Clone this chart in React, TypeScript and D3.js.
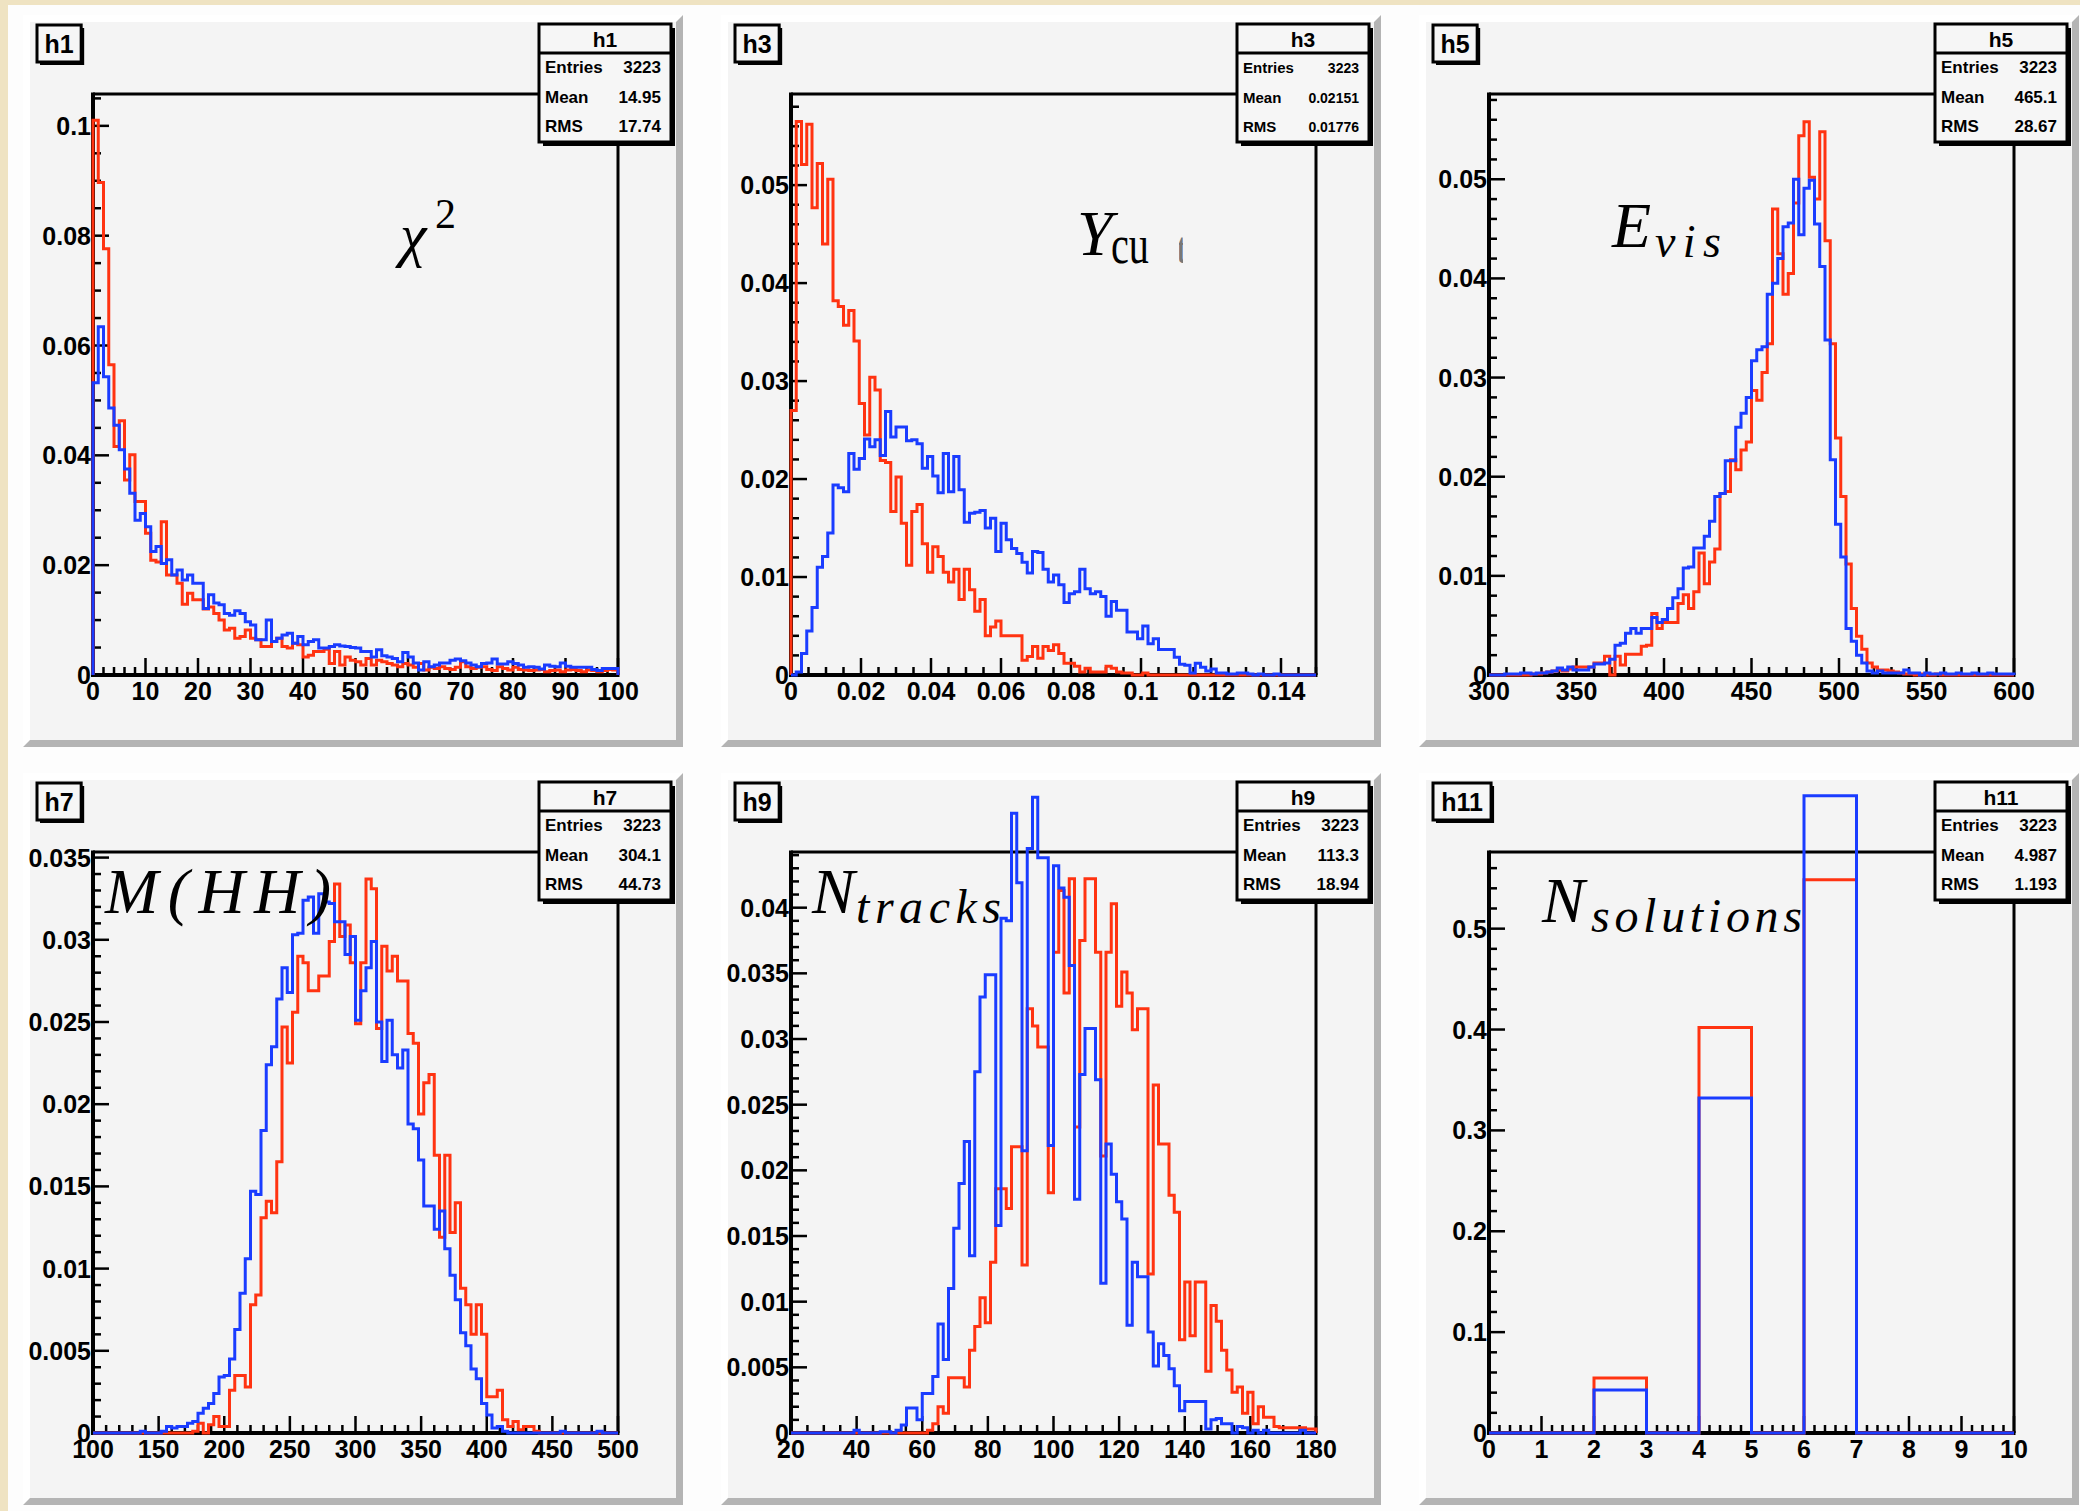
import React from "react";
import * as d3 from "d3";

// ---------------- data (normalised bin contents) ----------------
const chi2Red = [
  0.101, 0.0897, 0.0776, 0.0565, 0.0416, 0.0463, 0.0355, 0.0401, 0.0316, 0.0316,
  0.0258, 0.0209, 0.0206, 0.0279, 0.0182, 0.0182, 0.0167, 0.0129, 0.0149, 0.0137,
  0.0137, 0.012, 0.0124, 0.0112, 0.01, 0.0082, 0.0085, 0.0067, 0.007, 0.0082,
  0.0067, 0.0064, 0.0052, 0.0052, 0.0061, 0.0067, 0.0052, 0.0049, 0.0058, 0.0055,
  0.0033, 0.0036, 0.0043, 0.0043, 0.0047, 0.0021, 0.0043, 0.0018, 0.0033, 0.0027,
  0.0024, 0.0018, 0.003, 0.0018, 0.0027, 0.0024, 0.0021, 0.0018, 0.0015, 0.0021,
  0.0018, 0.0014, 0.0021, 0.0009, 0.0014, 0.0012, 0.0015, 0.0012, 0.001, 0.0014,
  0.0024, 0.0015, 0.0012, 0.0014, 0.0015, 0.001, 0.0008, 0.0015, 0.0012, 0.0009,
  0.0014, 0.001, 0.0009, 0.0008, 0.0009, 0.001, 0.0006, 0.0008, 0.0009, 0.0006,
  0.0009, 0.001, 0.0008, 0.0006, 0.0009, 0.0008, 0.0006, 0.0008, 0.001, 0.0009,
];
const chi2Blue = [
  0.0532, 0.0634, 0.0543, 0.0486, 0.0455, 0.041, 0.0375, 0.0331, 0.0282, 0.0294,
  0.027, 0.0225, 0.0234, 0.0203, 0.021, 0.0182, 0.0191, 0.0173, 0.0182, 0.0167,
  0.0167, 0.0121, 0.0146, 0.0131, 0.0128, 0.0112, 0.0109, 0.0117, 0.0112, 0.0097,
  0.0091, 0.0064, 0.0064, 0.01, 0.0061, 0.0067, 0.0073, 0.0076, 0.0058, 0.007,
  0.0055, 0.0061, 0.0064, 0.0049, 0.0049, 0.0052, 0.0055, 0.0053, 0.0052, 0.005,
  0.0049, 0.0043, 0.0043, 0.0033, 0.0046, 0.0035, 0.0033, 0.003, 0.0024, 0.0041,
  0.0033, 0.0022, 0.0009, 0.0024, 0.0015, 0.0018, 0.0022, 0.0022, 0.0027, 0.0029,
  0.0026, 0.0022, 0.0018, 0.0015, 0.0021, 0.0022, 0.0029, 0.002, 0.002, 0.0024,
  0.0021, 0.0018, 0.0014, 0.0015, 0.0014, 0.0011, 0.0018, 0.0016, 0.0015, 0.0022,
  0.0016, 0.0014, 0.0014, 0.0014, 0.0014, 0.001, 0.0008, 0.0012, 0.0012, 0.0012,
];
const ycutRed = [
  0.027, 0.0565, 0.0521, 0.0562, 0.0477, 0.0522, 0.044, 0.0506, 0.0382, 0.0376,
  0.0357, 0.0372, 0.0341, 0.0277, 0.0245, 0.0304, 0.0291, 0.0219, 0.0217, 0.0167,
  0.0202, 0.0155, 0.0112, 0.0167, 0.0174, 0.0134, 0.0105, 0.0131, 0.0121, 0.0105,
  0.0095, 0.0108, 0.0077, 0.0108, 0.0087, 0.0065, 0.0077, 0.004, 0.0049, 0.0055,
  0.004, 0.004, 0.004, 0.004, 0.0015, 0.0019, 0.0029, 0.0017, 0.0029, 0.0025,
  0.0031, 0.0022, 0.0012, 0.0012, 0.0009, 0.0003, 0.0007, 0.0003, 0.0003, 0.0003,
  0.0009, 0.0007, 0.0003, 0.0002, 0.0002, 0, 0, 0.0002, 0, 0,
  0, 0, 0, 0, 0, 0, 0, 0, 0, 0,
  0, 0, 0, 0, 0, 0, 0, 0, 0, 0,
  0, 0, 0, 0, 0, 0, 0, 0, 0, 0,
];
const ycutBlue = [
  0, 0.0003, 0.0022, 0.0045, 0.0069, 0.011, 0.0121, 0.0145, 0.0194, 0.0191,
  0.0187, 0.0226, 0.021, 0.0221, 0.0241, 0.0233, 0.024, 0.0224, 0.0269, 0.0243,
  0.0253, 0.0253, 0.0239, 0.024, 0.0236, 0.0211, 0.0223, 0.0203, 0.0186, 0.0226,
  0.0187, 0.0223, 0.0189, 0.0156, 0.0165, 0.0166, 0.0168, 0.015, 0.016, 0.0126,
  0.0155, 0.0138, 0.0129, 0.0124, 0.0115, 0.0104, 0.0126, 0.0125, 0.0108, 0.0095,
  0.0102, 0.0092, 0.0074, 0.0083, 0.0085, 0.0108, 0.0088, 0.0083, 0.0085, 0.008,
  0.006, 0.0075, 0.0066, 0.0066, 0.0044, 0.0044, 0.0037, 0.005, 0.0032, 0.0037,
  0.0026, 0.0026, 0.0026, 0.0018, 0.0011, 0.001, 0.0002, 0.0012, 0.0008, 0.0004,
  0.0006, 0.0002, 0.0002, 0.0001, 0.0001, 0.0002, 0.0002, 0.0001, 0, 0.0001,
  0, 0, 0.0001, 0, 0, 0, 0, 0, 0, 0,
];
const evisRed = [
  0, 0, 0, 0, 0, 0, 0, 0, 0.0001, 0.0001,
  0.0002, 0.0003, 0.0004, 0.0005, 0.0004, 0.0006, 0.0008, 0.0008, 0.0008, 0.0008,
  0.0012, 0.0012, 0.0019, 0, 0.0019, 0.001, 0.0021, 0.0021, 0.0021, 0.0029,
  0.003, 0.0062, 0.0047, 0.0053, 0.0053, 0.0053, 0.0072, 0.0081, 0.0067, 0.0084,
  0.0123, 0.0092, 0.0114, 0.0127, 0.0183, 0.0185, 0.0217, 0.0207, 0.0227, 0.0235,
  0.0287, 0.0277, 0.0305, 0.0334, 0.047, 0.0425, 0.0384, 0.0405, 0.0476, 0.0544,
  0.0558, 0.0502, 0.048, 0.0548, 0.0438, 0.0334, 0.0239, 0.018, 0.0112, 0.0067,
  0.0039, 0.0026, 0.0012, 0.0008, 0.0005, 0.0005, 0.0004, 0.0003, 0.0002, 0.0001,
  0.0001, 0, 0.0001, 0, 0, 0.0001, 0, 0, 0, 0,
  0, 0, 0, 0, 0, 0, 0, 0, 0, 0,
];
const evisBlue = [
  0, 0, 0, 0.0001, 0.0001, 0.0001, 0.0002, 0.0002, 0.0001, 0.0002,
  0.0002, 0.0003, 0.0004, 0.0007, 0.0005, 0.0008, 0.0005, 0.0005, 0.0005, 0.0008,
  0.0011, 0.0011, 0.0012, 0.0016, 0.003, 0.0032, 0.0042, 0.0047, 0.0042, 0.0047,
  0.0047, 0.0058, 0.0053, 0.0056, 0.0067, 0.0078, 0.0087, 0.0108, 0.0109, 0.0128,
  0.0128, 0.014, 0.0155, 0.018, 0.0183, 0.0216, 0.0216, 0.025, 0.0264, 0.028,
  0.0317, 0.0328, 0.0331, 0.0384, 0.0395, 0.042, 0.0452, 0.0456, 0.05, 0.0444,
  0.0491, 0.0499, 0.0455, 0.0412, 0.0338, 0.0217, 0.0152, 0.0119, 0.0047, 0.0034,
  0.002, 0.0012, 0.0004, 0.0002, 0.0004, 0.0002, 0.0002, 0.0002, 0.0002, 0.0005,
  0.0002, 0.0002, 0, 0.0002, 0.0001, 0.0001, 0.0002, 0.0001, 0.0001, 0.0002,
  0.0001, 0.0001, 0.0002, 0.0001, 0.0001, 0.0002, 0.0001, 0.0001, 0.0001, 0.0001,
];
const mhhRed = [
  0, 0, 0, 0, 0, 0, 0, 0, 0, 0,
  0, 0, 0, 0, 0, 0, 0, 0, 0, 0.0001,
  0.0006, 0, 0.0005, 0.001, 0.0004, 0.0004, 0.0026, 0.0035, 0.0035, 0.0028,
  0.0078, 0.0084, 0.0131, 0.0141, 0.0134, 0.0165, 0.0247, 0.0225, 0.0256, 0.029,
  0.0286, 0.0269, 0.0269, 0.0278, 0.0278, 0.0299, 0.0334, 0.0302, 0.0309, 0.0286,
  0.0249, 0.0286, 0.0337, 0.0331, 0.0246, 0.0296, 0.0281, 0.029, 0.0275, 0.0275,
  0.0243, 0.0237, 0.0194, 0.0213, 0.0218, 0.0169, 0.0119, 0.0169, 0.0122, 0.014,
  0.0088, 0.0078, 0.006, 0.0078, 0.006, 0.0022, 0.0022, 0.0026, 0.0008, 0.0004,
  0.0007, 0.0002, 0.0004, 0.0004, 0.0001, 0, 0, 0, 0, 0,
  0, 0, 0, 0, 0, 0, 0, 0, 0, 0,
];
const mhhBlue = [
  0, 0, 0, 0, 0, 0, 0, 0, 0, 0.0001,
  0, 0, 0, 0.0001, 0.0004, 0.0003, 0.0004, 0.0004, 0.0006, 0.0007,
  0.0012, 0.0015, 0.0018, 0.0024, 0.0034, 0.0035, 0.0045, 0.0063, 0.0085, 0.0106,
  0.0147, 0.0145, 0.0184, 0.0224, 0.0235, 0.0264, 0.0283, 0.0268, 0.0303, 0.0304,
  0.0324, 0.0326, 0.0304, 0.0328, 0.0323, 0.0322, 0.0311, 0.0311, 0.0291, 0.0302,
  0.0251, 0.0269, 0.0283, 0.0299, 0.025, 0.0226, 0.0251, 0.023, 0.0222, 0.0233,
  0.0188, 0.0185, 0.0166, 0.0138, 0.0138, 0.0124, 0.0135, 0.0112, 0.0096, 0.0081,
  0.0061, 0.0053, 0.0039, 0.0033, 0.0018, 0.0011, 0.0003, 0.0004, 0.0001, 0,
  0, 0, 0, 0, 0, 0, 0, 0, 0, 0.0001,
  0, 0, 0, 0, 0, 0, 0.0001, 0, 0, 0,
];
const ntrRed = [
  0, 0, 0, 0, 0, 0, 0, 0, 0, 0,
  0, 0, 0, 0, 0, 0, 0, 0, 0, 0,
  0, 0, 0, 0, 0, 0, 0.0002, 0.0007, 0.002, 0.0015,
  0.0042, 0.0042, 0.0042, 0.0035, 0.0063, 0.0081, 0.0103, 0.0084, 0.013, 0.0186,
  0.0186, 0.0171, 0.0218, 0.0218, 0.0128, 0.0323, 0.031, 0.0294, 0.0294, 0.0183,
  0.0366, 0.0413, 0.0335, 0.0422, 0.0233, 0.0375, 0.0422, 0.0422, 0.0366, 0.0211,
  0.0366, 0.0403, 0.0325, 0.0351, 0.0335, 0.0307, 0.0323, 0.0323, 0.0121, 0.0265,
  0.022, 0.022, 0.0181, 0.0168, 0.0071, 0.0115, 0.0074, 0.0115, 0.0115, 0.0047,
  0.0097, 0.0085, 0.0063, 0.0048, 0.0031, 0.0035, 0.0015, 0.0031, 0.0007, 0.002,
  0.0012, 0.0012, 0.0005, 0.0004, 0.0004, 0.0004, 0.0004, 0.0004, 0.0003, 0.0003,
];
const ntrBlue = [
  0, 0, 0, 0, 0, 0, 0, 0, 0, 0,
  0, 0, 0.0002, 0, 0, 0, 0, 0.0001, 0.0001, 0,
  0.0002, 0.0006, 0.0019, 0.0019, 0.001, 0.003, 0.003, 0.0043, 0.0083, 0.0056,
  0.011, 0.0156, 0.019, 0.0222, 0.0135, 0.0275, 0.0332, 0.0349, 0.0349, 0.0158,
  0.0392, 0.039, 0.0472, 0.0419, 0.0215, 0.0445, 0.0484, 0.0438, 0.0438, 0.0219,
  0.0432, 0.0415, 0.0408, 0.0356, 0.0178, 0.0273, 0.0308, 0.0308, 0.0269, 0.0114,
  0.022, 0.0197, 0.0176, 0.0163, 0.0082, 0.013, 0.0119, 0.0119, 0.0077, 0.0051,
  0.0068, 0.0059, 0.0049, 0.0036, 0.0017, 0.0024, 0.0024, 0.0024, 0.0024, 0.0003,
  0.001, 0.0011, 0.0007, 0.0007, 0, 0.0005, 0.0004, 0, 0.0002, 0,
  0.0002, 0, 0, 0, 0, 0, 0, 0.0002, 0, 0,
];
const nsolRed = [0, 0, 0.0545, 0, 0.402, 0, 0.5485, 0, 0, 0];
const nsolBlue = [0, 0, 0.0426, 0, 0.332, 0, 0.6317, 0, 0, 0];

const histNames = ["h1", "h3", "h5", "h7", "h9", "h11"];
const statEntries = ["3223", "3223", "3223", "3223", "3223", "3223"];
const statMean = ["14.95", "0.02151", "465.1", "304.1", "113.3", "4.987"];
const statRms = ["17.74", "0.01776", "28.67", "44.73", "18.94", "1.193"];
const xRanges = [[0, 100], [0, 0.15], [300, 600], [100, 500], [20, 180], [0, 10]];
const yTops = [0.1058, 0.0593, 0.0586, 0.03534, 0.04424, 0.576];
const xTickVals = [
  [0, 10, 20, 30, 40, 50, 60, 70, 80, 90, 100],
  [0, 0.02, 0.04, 0.06, 0.08, 0.1, 0.12, 0.14],
  [300, 350, 400, 450, 500, 550, 600],
  [100, 150, 200, 250, 300, 350, 400, 450, 500],
  [20, 40, 60, 80, 100, 120, 140, 160, 180],
  [0, 1, 2, 3, 4, 5, 6, 7, 8, 9, 10],
];
const yTickVals = [
  [0, 0.02, 0.04, 0.06, 0.08, 0.1],
  [0, 0.01, 0.02, 0.03, 0.04, 0.05],
  [0, 0.01, 0.02, 0.03, 0.04, 0.05],
  [0, 0.005, 0.01, 0.015, 0.02, 0.025, 0.03, 0.035],
  [0, 0.005, 0.01, 0.015, 0.02, 0.025, 0.03, 0.035, 0.04],
  [0, 0.1, 0.2, 0.3, 0.4, 0.5],
];
const xMinorSteps = [2, 0.005, 10, 10, 5, 0.2];
const yMinorSteps = [0.005, 0.002, 0.002, 0.001, 0.001, 0.02];

const redSeries = [chi2Red, ycutRed, evisRed, mhhRed, ntrRed, nsolRed];
const blueSeries = [chi2Blue, ycutBlue, evisBlue, mhhBlue, ntrBlue, nsolBlue];

// ---------------- layout ----------------
const W = 2080;
const H = 1511;
const PAD_X = [30, 728, 1426];
const PAD_Y = [22, 780];
const IW = 646;
const IH = 718;
const BEV = 7;
const RED = "#ff3311";
const BLUE = "#1a3cff";
const SANS = "'Liberation Sans', Arial, Helvetica, sans-serif";
const SERIF = "'Liberation Serif', 'Times New Roman', serif";

function minorTicks(lo: number, hi: number, step: number, majors: number[]) {
  const n = Math.floor((hi - lo) / step + 1e-6);
  const out: number[] = [];
  for (let k = 0; k <= n; k++) {
    const v = lo + k * step;
    if (!majors.some((m) => Math.abs(m - v) < step * 0.01)) out.push(v);
  }
  return out;
}

function histPath(data: number[], x: d3.ScaleLinear<number, number>, y: d3.ScaleLinear<number, number>, lo: number, hi: number) {
  const n = data.length;
  const bw = (hi - lo) / n;
  const pts: [number, number][] = [[lo, 0]];
  data.forEach((v, k) => pts.push([lo + k * bw, v]));
  pts.push([hi, 0]);
  const line = d3
    .line<[number, number]>()
    .x((d) => x(d[0]))
    .y((d) => y(d[1]))
    .curve(d3.curveStepAfter);
  return line(pts) || "";
}

function Annotation({ i, ix, iy }: { i: number; ix: number; iy: number }) {
  const common = { fontFamily: SERIF, fill: "#000" } as any;
  if (i === 0)
    return (
      <g>
        <text {...common} x={ix + 370} y={iy + 233} fontSize={60} fontStyle="italic">χ</text>
        <text {...common} x={ix + 405} y={iy + 206} fontSize={42}>2</text>
      </g>
    );
  if (i === 1)
    return (
      <g>
        <defs>
          <clipPath id="tclip">
            <rect x={ix + 451} y={iy + 215} width={4} height={32} />
          </clipPath>
        </defs>
        <text {...common} x={ix + 349} y={iy + 233} fontSize={64} fontStyle="italic">Y</text>
        <text {...common} x={ix + 383} y={iy + 241} fontSize={54} textLength={38} lengthAdjust="spacingAndGlyphs">cu</text>
        <text {...common} x={ix + 448} y={iy + 241} fontSize={44} fill="#777" clipPath="url(#tclip)">t</text>
      </g>
    );
  if (i === 2)
    return (
      <g>
        <text {...common} x={ix + 186} y={iy + 225} fontSize={64} fontStyle="italic">E</text>
        <text {...common} x={ix + 229} y={iy + 235} fontSize={46} fontStyle="italic" textLength={66} lengthAdjust="spacing">vis</text>
      </g>
    );
  if (i === 3)
    return (
      <text {...common} x={ix + 75} y={iy + 133} fontSize={64} fontStyle="italic" textLength={226} lengthAdjust="spacing">M(HH)</text>
    );
  if (i === 4)
    return (
      <g>
        <text {...common} x={ix + 84} y={iy + 133} fontSize={64} fontStyle="italic">N</text>
        <text {...common} x={ix + 128} y={iy + 143} fontSize={48} fontStyle="italic" textLength={145} lengthAdjust="spacing">tracks</text>
      </g>
    );
  return (
    <g>
      <text {...common} x={ix + 116} y={iy + 142} fontSize={64} fontStyle="italic">N</text>
      <text {...common} x={ix + 165} y={iy + 152} fontSize={48} fontStyle="italic" textLength={211} lengthAdjust="spacing">solutions</text>
    </g>
  );
}

function Panel({ i }: { i: number }) {
  const col = i % 3;
  const row = Math.floor(i / 3);
  const ix = PAD_X[col];
  const iy = PAD_Y[row];
  const fl = ix + 63;
  const fr = ix + 588;
  const ft = iy + 72;
  const fb = iy + 653;
  const [lo, hi] = xRanges[i];
  const x = d3.scaleLinear().domain([lo, hi]).range([fl, fr]);
  const y = d3.scaleLinear().domain([0, yTops[i]]).range([fb, ft]);
  const xMin = minorTicks(lo, hi, xMinorSteps[i], xTickVals[i]);
  const yMin = minorTicks(0, yTops[i], yMinorSteps[i], yTickVals[i]);

  const ox0 = ix - BEV, oy0 = iy - BEV, ox1 = ix + IW + BEV, oy1 = iy + IH + BEV;
  const dark = `${ox0},${oy1} ${ox1},${oy1} ${ox1},${oy0} ${ix + IW},${iy} ${ix + IW},${iy + IH} ${ix},${iy + IH}`;
  const light = `${ox0},${oy1} ${ox0},${oy0} ${ox1},${oy0} ${ix + IW},${iy} ${ix},${iy} ${ix},${iy + IH}`;

  const name = histNames[i];
  const tw = 15 + 25 * (0.611 + 0.556 * (name.length - 1));
  const sbR = ix + IW - 5;
  const sbW = 132;
  const sbX = sbR - sbW;
  const sbY = iy + 2;
  const sbH = 118;
  const labSize = i === 1 ? 15 : 17;
  const valSize = i === 1 ? 14 : 17;
  const rows = [
    ["Entries", statEntries[i]],
    ["Mean", statMean[i]],
    ["RMS", statRms[i]],
  ];

  return (
    <g>
      <polygon points={light} fill="#ffffff" />
      <polygon points={dark} fill="#b4b4b4" />
      <rect x={ix} y={iy} width={IW} height={IH} fill="#f4f4f4" />

      {/* frame */}
      <line x1={fl} x2={fr} y1={ft} y2={ft} stroke="#000" strokeWidth={3} />
      <line x1={fr} x2={fr} y1={ft} y2={fb} stroke="#000" strokeWidth={3} />

      {/* ticks */}
      {xTickVals[i].map((v) => (
        <line key={"xM" + v} x1={x(v)} x2={x(v)} y1={fb} y2={fb - 17} stroke="#000" strokeWidth={2.5} />
      ))}
      {xMin.map((v, k) => (
        <line key={"xm" + k} x1={x(v)} x2={x(v)} y1={fb} y2={fb - 8} stroke="#000" strokeWidth={2.5} />
      ))}
      {yTickVals[i].map((v) => (
        <line key={"yM" + v} x1={fl} x2={fl + 16} y1={y(v)} y2={y(v)} stroke="#000" strokeWidth={2.5} />
      ))}
      {yMin.map((v, k) => (
        <line key={"ym" + k} x1={fl} x2={fl + 8} y1={y(v)} y2={y(v)} stroke="#000" strokeWidth={2.5} />
      ))}
      <line x1={fl - 1} x2={fr + 1.5} y1={fb} y2={fb} stroke="#000" strokeWidth={4} />
      <line x1={fl} x2={fl} y1={ft - 1.5} y2={fb + 2} stroke="#000" strokeWidth={4} />

      {/* tick labels */}
      {xTickVals[i].map((v) => (
        <text key={"xl" + v} x={x(v)} y={fb + 25} textAnchor="middle" fontFamily={SANS} fontWeight="bold" fontSize={25} fill="#000">
          {String(v)}
        </text>
      ))}
      {yTickVals[i].map((v) => (
        <text key={"yl" + v} x={fl - 2} y={y(v) + 9} textAnchor="end" fontFamily={SANS} fontWeight="bold" fontSize={25} fill="#000">
          {String(v)}
        </text>
      ))}

      {/* histograms */}
      <path d={histPath(redSeries[i], x, y, lo, hi)} fill="none" stroke={RED} strokeWidth={3} />
      <path d={histPath(blueSeries[i], x, y, lo, hi)} fill="none" stroke={BLUE} strokeWidth={3} />

      <Annotation i={i} ix={ix} iy={iy} />

      {/* title box */}
      <rect x={ix + 10} y={iy + 6} width={tw} height={37} fill="#000" />
      <rect x={ix + 7} y={iy + 3} width={tw} height={37} fill="#f6f6f6" stroke="#000" strokeWidth={3} />
      <text x={ix + 7 + tw / 2} y={iy + 31} textAnchor="middle" fontFamily={SANS} fontWeight="bold" fontSize={25} fill="#000">
        {name}
      </text>

      {/* stats box */}
      <rect x={sbX + 4} y={sbY + 4} width={sbW} height={sbH} fill="#000" />
      <rect x={sbX} y={sbY} width={sbW} height={sbH} fill="#f6f6f6" stroke="#000" strokeWidth={3} />
      <line x1={sbX} x2={sbX + sbW} y1={sbY + 29} y2={sbY + 29} stroke="#000" strokeWidth={3} />
      <text x={sbX + sbW / 2} y={sbY + 23} textAnchor="middle" fontFamily={SANS} fontWeight="bold" fontSize={21} fill="#000">
        {name}
      </text>
      {rows.map((r, k) => (
        <g key={r[0]}>
          <text x={sbX + 6} y={sbY + 49 + k * 29.5} fontFamily={SANS} fontWeight="bold" fontSize={labSize} fill="#000">
            {r[0]}
          </text>
          <text x={sbX + sbW - 10} y={sbY + 49 + k * 29.5} textAnchor="end" fontFamily={SANS} fontWeight="bold" fontSize={valSize} fill="#000">
            {r[1]}
          </text>
        </g>
      ))}
    </g>
  );
}

export default function App() {
  return (
    <div style={{ position: "absolute", left: 0, top: 0 }}>
      <svg width={W} height={H} viewBox={`0 0 ${W} ${H}`} style={{ display: "block" }}>
        <rect x={0} y={0} width={W} height={H} fill="#efe3c2" />
        <rect x={8} y={5} width={W - 8} height={H - 5} fill="#fdfdfd" />
        {[0, 1, 2, 3, 4, 5].map((i) => (
          <Panel key={i} i={i} />
        ))}
      </svg>
    </div>
  );
}
